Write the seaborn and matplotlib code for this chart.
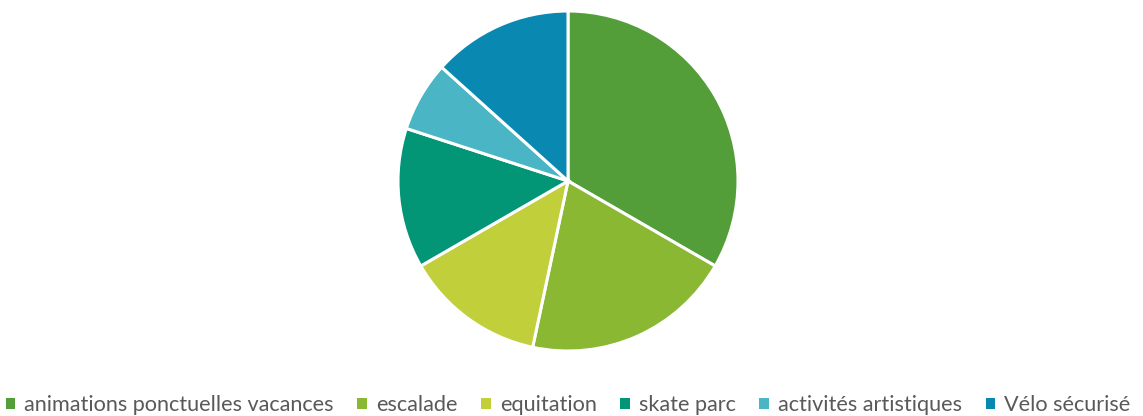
import matplotlib
matplotlib.use("Agg")
import matplotlib.pyplot as plt
from matplotlib.patches import Patch
import seaborn as sns

# data (counts, total 15)
labels = ["animations ponctuelles vacances", "escalade", "equitation",
          "skate parc", "activités artistiques", "Vélo sécurisé"]
values = [5, 3, 2, 2, 1, 2]
colors = ["#549E39", "#8AB833", "#C0CF3A", "#029676", "#4AB5C4", "#0989B1"]

sns.set_theme(style="white")
plt.rcParams["font.family"] = ["Lato", "DejaVu Sans"]

W, H = 1143, 416
fig = plt.figure(figsize=(W / 100, H / 100), dpi=100)
r = 170
cx, cy = 568, 181
ax = fig.add_axes([(cx - r) / W, (H - cy - r) / H, 2 * r / W, 2 * r / H])

ax.pie(values, colors=colors, startangle=90, counterclock=False,
       wedgeprops={"edgecolor": "white", "linewidth": 2.2})
ax.set_xlim(-1.0, 1.0)
ax.set_ylim(-1.0, 1.0)
ax.set_aspect("equal")

handles = [Patch(facecolor=c, edgecolor="none", label=l) for c, l in zip(colors, labels)]
fig.legend(handles=handles, loc="lower center", bbox_to_anchor=(0.497, -0.045),
           ncol=6, frameon=False, fontsize=15.6, handlelength=0.45,
           handleheight=0.45, handletextpad=0.4, columnspacing=1.1,
           labelcolor="#595959")

fig.savefig("out.png", dpi=100, facecolor="white")
